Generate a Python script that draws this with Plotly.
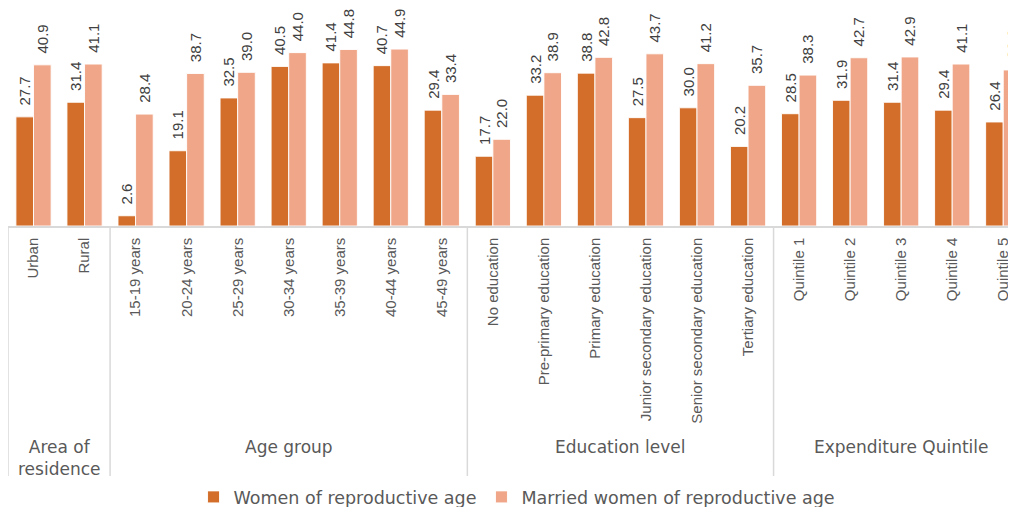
import plotly.graph_objects as go

# ---- data ----
group_names = ["Area of<br>residence", "Age group", "Education level", "Expenditure Quintile"]
area_cats = ["Urban", "Rural"]
age_cats = ["15-19 years", "20-24 years", "25-29 years", "30-34 years", "35-39 years", "40-44 years", "45-49 years"]
edu_cats = ["No education", "Pre-primary education", "Primary education", "Junior secondary education",
            "Senior secondary education", "Tertiary education"]
quint_cats = ["Quintile 1", "Quintile 2", "Quintile 3", "Quintile 4", "Quintile 5"]

women_area = [27.7, 31.4]
women_age = [2.6, 19.1, 32.5, 40.5, 41.4, 40.7, 29.4]
women_edu = [17.7, 33.2, 38.8, 27.5, 30.0, 20.2]
women_quint = [28.5, 31.9, 31.4, 29.4, 26.4]

married_area = [40.9, 41.1]
married_age = [28.4, 38.7, 39.0, 44.0, 44.8, 44.9, 33.4]
married_edu = [22.0, 38.9, 42.8, 43.7, 41.2, 35.7]
married_quint = [38.3, 42.7, 42.9, 41.1, 39.6]

series_names = ["Women of reproductive age", "Married women of reproductive age"]

groups = [area_cats, age_cats, edu_cats, quint_cats]
categories = area_cats + age_cats + edu_cats + quint_cats
women = women_area + women_age + women_edu + women_quint
married = married_area + married_age + married_edu + married_quint

# ---- style ----
C_WOMEN = "#D36E2A"
C_MARRIED = "#F0A688"
LABEL_FONT = "Liberation Sans"
TEXT_FONT = "DejaVu Sans"
OFF = 8                      # page body margin
W, H = 1016 - OFF, 507 - OFF
PLOT_H = 226 - OFF           # plot area height (baseline at screen y=226)


def py(screen_y):
    """screen pixel y -> paper y"""
    return -((screen_y - OFF) - PLOT_H) / PLOT_H


fig = go.Figure()
for name, vals, col in [(series_names[0], women, C_WOMEN), (series_names[1], married, C_MARRIED)]:
    fig.add_trace(go.Bar(
        x=categories, y=vals, name=name,
        marker=dict(color=col, line=dict(color="rgba(255,255,255,0.9)", width=1)),
        texttemplate="\u00a0\u00a0%{y:.1f}", textposition="outside", textangle=-90,
        textfont=dict(family=LABEL_FONT, size=15, color="#404040"),
        cliponaxis=False, constraintext="none",
    ))

# group separators and group labels
shapes = []
annotations = []
start = 0
boundaries = [-0.5]
for gname, cats in zip(group_names, groups):
    end = start + len(cats)
    boundaries.append(end - 0.5)
    annotations.append(dict(
        x=(start + end - 1) / 2, xref="x", y=py(435), yref="paper",
        text=gname, showarrow=False, yanchor="top", xanchor="center",
        font=dict(family=TEXT_FONT, size=17, color="#595959"), align="center",
    ))
    start = end
for b in boundaries:
    shapes.append(dict(type="line", xref="x", yref="paper", x0=b, x1=b, y0=0, y1=py(476),
                       line=dict(color="#D9D9D9", width=1.5)))

fig.update_layout(
    width=W, height=H,
    margin=dict(l=0, r=0, t=0, b=H - PLOT_H, pad=0, autoexpand=False),
    plot_bgcolor="white", paper_bgcolor="white",
    barmode="group", bargap=0.31, bargroupgap=0.0,
    showlegend=True,
    legend=dict(orientation="h", x=0.505, xanchor="center", y=py(479), yanchor="top",
                font=dict(family=TEXT_FONT, size=17.5, color="#595959"), itemwidth=30,
                traceorder="normal"),
    shapes=shapes, annotations=annotations,
    xaxis=dict(type="category", range=[-0.5, 19.25], tickangle=-90, automargin=False,
               tickfont=dict(family=LABEL_FONT, size=15, color="#595959"),
               showline=True, linecolor="#D9D9D9", linewidth=1.5, showgrid=False,
               ticks="", ticklabelstandoff=4),
    yaxis=dict(range=[0, PLOT_H / 3.94], visible=False, showgrid=False, zeroline=False, automargin=False),
)

fig.write_html("out.html")
